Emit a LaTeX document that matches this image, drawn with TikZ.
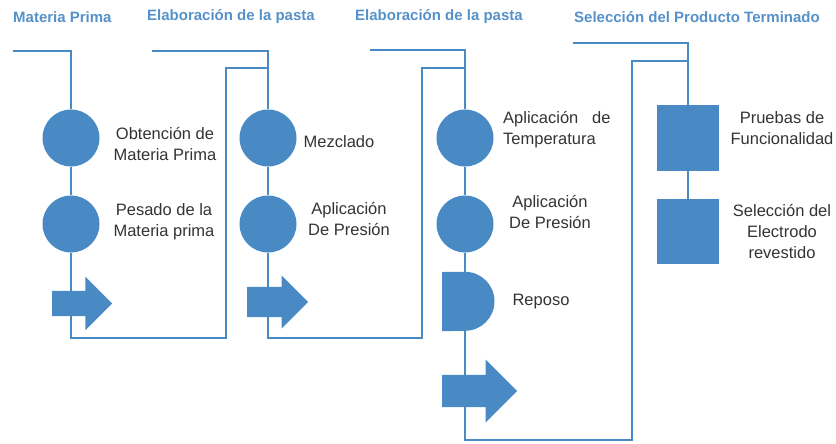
\documentclass[tikz,border=0pt]{standalone}
\usepackage{fontspec}
\setmainfont{Liberation Sans}
\usetikzlibrary{shapes.arrows,backgrounds}
\definecolor{bl}{RGB}{74,138,196}
\definecolor{ttl}{RGB}{86,145,201}
\definecolor{txt}{RGB}{51,51,51}
\begin{document}
\begin{tikzpicture}[x=1pt,y=-1pt,
  ln/.style={draw=bl, line width=2pt},
  circ/.style={circle, fill=bl, minimum size=57pt, inner sep=0pt},
  sq/.style={rectangle, fill=bl, minimum width=62pt, minimum height=66pt, inner sep=0pt},
  arr/.style={single arrow, fill=bl, inner xsep=0pt, single arrow tip angle=90, anchor=tail},
  lbl/.style={text=txt, font=\fontsize{16.5}{21}\selectfont, align=center, inner sep=0pt},
  ttlst/.style={text=ttl, font=\bfseries\fontsize{15}{18}\selectfont, anchor=west, inner sep=0pt}]
\useasboundingbox (0,0) rectangle (836,444);

% titles
\node[ttlst] (h1) at (13,17) {Materia Prima};
\node[ttlst] (h2) at (147,17) {Elaboración de la pasta};
\node[ttlst] (h3) at (355,17) {Elaboración de la pasta};
\node[ttlst] (h4) at (574,17) {Selección del Producto Terminado};

% column 1
\node[circ] (c1) at (71,138) {};
\node[circ] (c2) at (71,224) {};
\node[arr, inner ysep=12.5pt, minimum height=60pt, single arrow head extend=14pt] (a1) at (52,303.5) {};
% column 2
\node[circ] (c3) at (268,138) {};
\node[circ] (c4) at (268,224) {};
\node[arr, inner ysep=15pt, minimum height=61pt, single arrow head extend=11.5pt] (a2) at (247,302) {};
% column 3
\node[circ] (c5) at (465,138) {};
\node[circ] (c6) at (465,224) {};
\node[inner sep=0pt, minimum width=52pt, minimum height=59pt, anchor=west] (rep) at (442,301.5) {};
\fill[bl] (rep.north west) -- ++(23,0) arc[start angle=-90, end angle=90, radius=29.5] -- (rep.south west) -- cycle;
\node[arr, inner ysep=16pt, minimum height=75pt, single arrow head extend=15.5pt] (a3) at (442,391) {};
% column 4
\node[sq] (s1) at (688,138) {};
\node[sq, minimum height=65pt] (s2) at (688,231.5) {};

% connector coordinates
\coordinate (t1) at (13,51);
\coordinate (t2) at (152,51);
\coordinate (t3) at (370,50);
\coordinate (t4) at (573,43);
\coordinate (b1) at (226,338);
\coordinate (b2) at (422,338);
\coordinate (b3) at (632,440);
\coordinate (j2) at (268,68);
\coordinate (j3) at (465,68);
\coordinate (j4) at (688,61);

\begin{pgfonlayer}{background}
\draw[ln] (t1) -- (t1 -| c1) -- (c1) -- (c2) -- (b1 -| c2) -- (b1) -- (b1 |- j2) -- (j2);
\draw[ln] (t2) -- (t2 -| c3) -- (c3) -- (c4) -- (b2 -| c4) -- (b2) -- (b2 |- j3) -- (j3);
\draw[ln] (t3) -- (t3 -| c5) -- (c5) -- (c6) -- (rep -| c6) -- (b3 -| c6) -- (b3) -- (b3 |- j4) -- (j4);
\draw[ln] (t4) -- (t4 -| s1) -- (s1) -- (s2);
\end{pgfonlayer}

% labels
\node[lbl] (l1) at (165,144) {Obtención de\\Materia Prima};
\node[lbl] (l2) at (164,222) {Pesado de la\\Materia prima};
\node[lbl] (l3) at (339,142) {Mezclado};
\node[lbl] (l4) at (349,219) {Aplicación\\De Presión};
\node[lbl, align=left, anchor=west] (l5) at (503,130) {Aplicación\ \ \ de\\Temperatura};
\node[lbl] (l6) at (550,212) {Aplicación\\De Presión};
\node[lbl] (l7) at (541,302) {Reposo};
\node[lbl] (l8) at (782,128) {Pruebas de\\Funcionalidad};
\node[lbl] (l9) at (782,232) {Selección del\\Electrodo\\revestido};
\end{tikzpicture}
\end{document}
